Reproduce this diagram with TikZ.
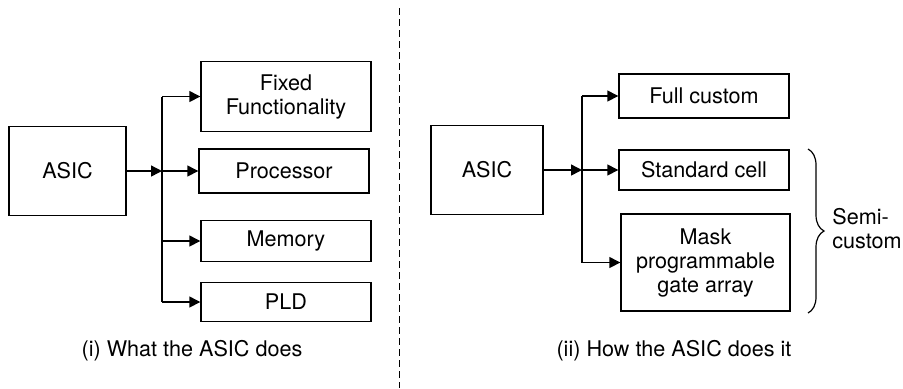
\documentclass[tikz,border=0pt]{standalone}
\usepackage{fontspec}
\setmainfont{TeX Gyre Heros}
\usetikzlibrary{arrows.meta,decorations.pathreplacing}

\tikzset{
  blk/.style={draw, line width=0.7pt, rectangle, inner sep=0pt, align=center,
              font=\fontsize{10.8pt}{12pt}\selectfont},
  arr/.style={line width=0.7pt, -{Triangle[length=5.5pt,width=5.5pt]}},
  trunk/.style={line width=0.7pt},
  captxt/.style={font=\fontsize{10.8pt}{12pt}\selectfont},
}

\begin{document}
\begin{tikzpicture}[x=0.5pt,y=-0.5pt]
  \useasboundingbox (0,0) rectangle (903,388);

  % ---------- (i) What the ASIC does ----------
  \node[blk, minimum width=58.5pt, minimum height=44.5pt] (asicA) at (67.5,171) {ASIC};
  \node[blk, minimum width=85pt, minimum height=35pt] (fixed) at (286,96.5) {Fixed\\Functionality};
  \node[blk, minimum width=85pt, minimum height=22pt] (proc) at (284,171) {Processor};
  \node[blk, minimum width=85pt, minimum height=20.5pt] (mem) at (286,241) {Memory};
  \node[blk, minimum width=85pt, minimum height=19.5pt] (pld) at (286,302) {PLD};
  \coordinate (tA) at (162,171);

  \draw[trunk] (tA |- fixed.west) -- (tA |- pld.west);
  \draw[arr] (asicA.east) -- (tA);
  \draw[arr] (tA |- fixed.west) -- (fixed.west);
  \draw[arr] (tA) -- (proc.west);
  \draw[arr] (tA |- mem.west) -- (mem.west);
  \draw[arr] (tA |- pld.west) -- (pld.west);

  \node[captxt] (capA) at (192,351) {(i) What the ASIC does};

  % ---------- divider ----------
  \coordinate (divTop) at (399,8);
  \coordinate (divBot) at (399,388);
  \draw[line width=0.5pt, dash pattern=on 3.5pt off 2pt] (divTop) -- (divBot);

  % ---------- (ii) How the ASIC does it ----------
  \node[blk, minimum width=56pt, minimum height=44.5pt] (asicB) at (487,170) {ASIC};
  \node[blk, minimum width=85pt, minimum height=22pt] (full) at (704,96) {Full custom};
  \node[blk, minimum width=85pt, minimum height=20pt] (std) at (704,170) {Standard cell};
  \node[blk, minimum width=84.5pt, minimum height=48.5pt] (mask) at (705.5,262.5) {Mask\\programmable\\gate array};
  \coordinate (tB) at (582,170);

  \draw[trunk] (tB |- full.west) -- (tB |- mask.west);
  \draw[arr] (asicB.east) -- (tB);
  \draw[arr] (tB |- full.west) -- (full.west);
  \draw[arr] (tB) -- (std.west);
  \draw[arr] (tB |- mask.west) -- (mask.west);

  \coordinate (brTop) at (808,149);
  \coordinate (brBot) at (808,313);
  \draw[line width=0.6pt, decorate, decoration={brace, amplitude=8pt}] (brTop) -- (brBot);
  \node[captxt, anchor=west, align=left, inner sep=0pt] (semi) at (832,229) {Semi-\\custom};

  \node[captxt] (capB) at (674,351) {(ii) How the ASIC does it};
\end{tikzpicture}
\end{document}
